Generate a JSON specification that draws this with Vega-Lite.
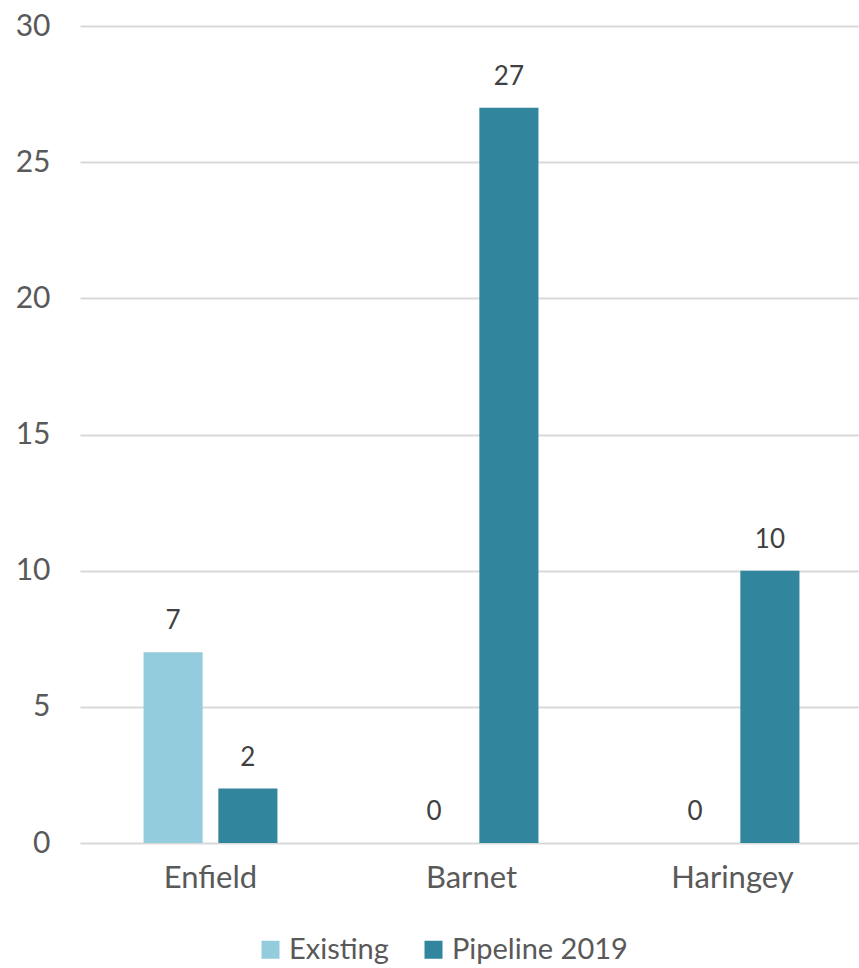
{
  "$schema": "https://vega.github.io/schema/vega-lite/v6.json",
  "width": 783,
  "height": 817,
  "padding": {"left": 15, "top": 11, "right": 0, "bottom": 0},
  "autosize": {"type": "pad"},
  "config": {"view": {"stroke": null}, "font": "Lato"},
  "data": {
    "values": [
      {"borough": "Enfield", "series": "Existing", "count": 7},
      {"borough": "Enfield", "series": "Pipeline 2019", "count": 2},
      {"borough": "Barnet", "series": "Existing", "count": 0},
      {"borough": "Barnet", "series": "Pipeline 2019", "count": 27},
      {"borough": "Haringey", "series": "Existing", "count": 0},
      {"borough": "Haringey", "series": "Pipeline 2019", "count": 10}
    ]
  },
  "encoding": {
    "x": {
      "field": "borough",
      "type": "nominal",
      "sort": ["Enfield", "Barnet", "Haringey"],
      "scale": {"paddingInner": 0.487, "paddingOuter": 0.2435},
      "axis": {
        "title": null,
        "labelAngle": 0,
        "ticks": false,
        "domain": false,
        "labelFontSize": 31,
        "labelColor": "#595959",
        "labelPadding": 20
      }
    },
    "xOffset": {
      "field": "series",
      "type": "nominal",
      "sort": ["Existing", "Pipeline 2019"],
      "scale": {"paddingInner": 0.21, "paddingOuter": 0}
    },
    "y": {
      "field": "count",
      "type": "quantitative",
      "scale": {"domain": [0, 30], "nice": false},
      "axis": {
        "title": null,
        "values": [0, 5, 10, 15, 20, 25, 30],
        "ticks": false,
        "domain": false,
        "gridColor": "#D9D9D9",
        "gridWidth": 2,
        "labelFontSize": 30,
        "labelColor": "#595959",
        "labelPadding": 30
      }
    }
  },
  "layer": [
    {
      "mark": {"type": "bar"},
      "encoding": {
        "color": {
          "field": "series",
          "type": "nominal",
          "sort": ["Existing", "Pipeline 2019"],
          "scale": {"domain": ["Existing", "Pipeline 2019"], "range": ["#93CDDD", "#31859C"]},
          "legend": {
            "title": null,
            "orient": "none",
            "legendX": 176,
            "legendY": 909,
            "direction": "horizontal",
            "symbolType": "square",
            "symbolSize": 324,
            "symbolStrokeWidth": 0,
            "symbolOpacity": 1,
            "labelFontSize": 29,
            "labelColor": "#595959",
            "labelLimit": 400,
            "columnPadding": 30,
            "labelOffset": 4
          }
        }
      }
    },
    {
      "mark": {"type": "text", "dy": -31, "fontSize": 26, "color": "#404040"},
      "encoding": {"text": {"field": "count", "type": "quantitative"}}
    }
  ]
}
